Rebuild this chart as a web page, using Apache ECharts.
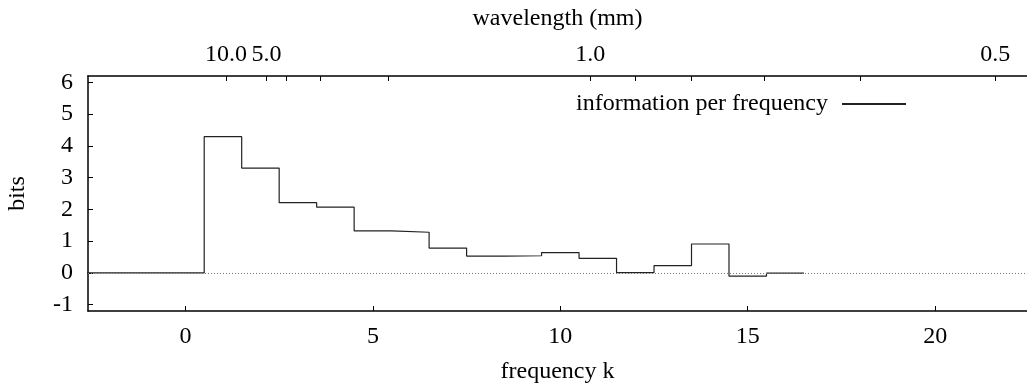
<!DOCTYPE html>
<html>
<head>
<meta charset="utf-8">
<script src="https://cdn.jsdelivr.net/npm/echarts@6/dist/echarts.min.js"></script>
<style>
  html, body { margin: 0; padding: 0; background: #fff; }
  #chart { width: 1027px; height: 385px; }
</style>
</head>
<body>
<div id="chart"></div>
<script>
// frequency bins (histeps, centred on integer k)
const freqK = [-3, -2, -1, 0, 1, 2, 3, 4, 5, 6, 7, 8, 9, 10, 11, 12, 13, 14, 15, 16]
const bitsPerFreq = [0, 0, 0, 0, 4.29, 3.30, 2.21, 2.07, 1.32, 1.28, 0.78, 0.53, 0.54, 0.64, 0.46, 0.01, 0.23, 0.91, -0.10, -0.01]

// top axis: wavelength in mm, k = WAVE_CONST / lambda
const WAVE_CONST = 10.8
const waveTicks = [10, 5, 4, 3, 2, 1, 0.9, 0.8, 0.7, 0.6, 0.5]
const waveLabels = [10, 5, 1, 0.5]

const xTicks = [0, 5, 10, 15, 20]
const yTicks = [-1, 0, 1, 2, 3, 4, 5, 6]

const font = "Liberation Serif"
const fs = 24

// left bin edges for step:'end', plus closing point on the right
const stepData = freqK.map((k, i) => [k - 0.5, bitsPerFreq[i]])
stepData.push([freqK[freqK.length - 1] + 0.5, bitsPerFreq[bitsPerFreq.length - 1]])

const chart = echarts.init(document.getElementById("chart"))

const axisLine = { show: true, onZero: false, lineStyle: { color: "#000", width: 1.5 } }
const axisTick = { show: true, inside: true, length: 5, lineStyle: { color: "#000", width: 1 } }
const nameStyle = { fontFamily: font, fontSize: fs, color: "#000" }

chart.setOption({
  animation: false,
  textStyle: { fontFamily: font },
  grid: { left: 88, right: 0, top: 76, bottom: 74, outerBoundsMode: "none", containLabel: false },
  legend: {
    right: 116,
    top: 87,
    align: "right",
    itemWidth: 64,
    itemHeight: 2,
    itemGap: 0,
    textStyle: { fontFamily: font, fontSize: fs, color: "#000", padding: [0, 9, 0, 0] },
    data: [{ name: "information per frequency", icon: "rect", itemStyle: { color: "#222" } }],
  },
  xAxis: [
    {
      type: "value",
      position: "bottom",
      min: -2.6,
      max: 22.45,
      name: "frequency k",
      nameLocation: "middle",
      nameGap: 49,
      nameMoveOverlap: false,
      nameTextStyle: nameStyle,
      axisLine,
      axisTick: { ...axisTick, customValues: xTicks },
      axisLabel: { customValues: xTicks, fontFamily: font, fontSize: fs, color: "#000", margin: 14 },
      splitLine: { show: false },
    },
    {
      type: "value",
      position: "top",
      min: -2.6,
      max: 22.45,
      name: "wavelength (mm)",
      nameLocation: "middle",
      nameGap: 45,
      nameMoveOverlap: false,
      nameTextStyle: nameStyle,
      axisLine,
      axisTick: { ...axisTick, customValues: waveTicks.map((l) => WAVE_CONST / l) },
      axisLabel: {
        customValues: waveLabels.map((l) => WAVE_CONST / l),
        formatter: (v) => (WAVE_CONST / v).toFixed(1),
        fontFamily: font,
        fontSize: fs,
        color: "#000",
        margin: 9,
      },
      splitLine: { show: false },
    },
  ],
  yAxis: {
    type: "value",
    min: -1.2,
    max: 6.2,
    name: "bits",
    nameLocation: "middle",
    nameGap: 58,
    nameMoveOverlap: false,
    nameRotate: 90,
    nameTextStyle: nameStyle,
    axisLine,
    axisTick: { ...axisTick, customValues: yTicks },
    axisLabel: { customValues: yTicks, fontFamily: font, fontSize: fs, color: "#000", margin: 15 },
    splitLine: { show: false },
  },
  series: [
    {
      type: "line",
      name: "information per frequency",
      data: stepData,
      step: "end",
      showSymbol: false,
      symbol: "none",
      lineStyle: { color: "#222", width: 1.2 },
      itemStyle: { color: "#222" },
      markLine: {
        silent: true,
        symbol: "none",
        label: { show: false },
        lineStyle: { color: "#777", type: [1, 2], width: 1 },
        data: [{ yAxis: 0 }],
      },
    },
  ],
})
</script>
</body>
</html>
